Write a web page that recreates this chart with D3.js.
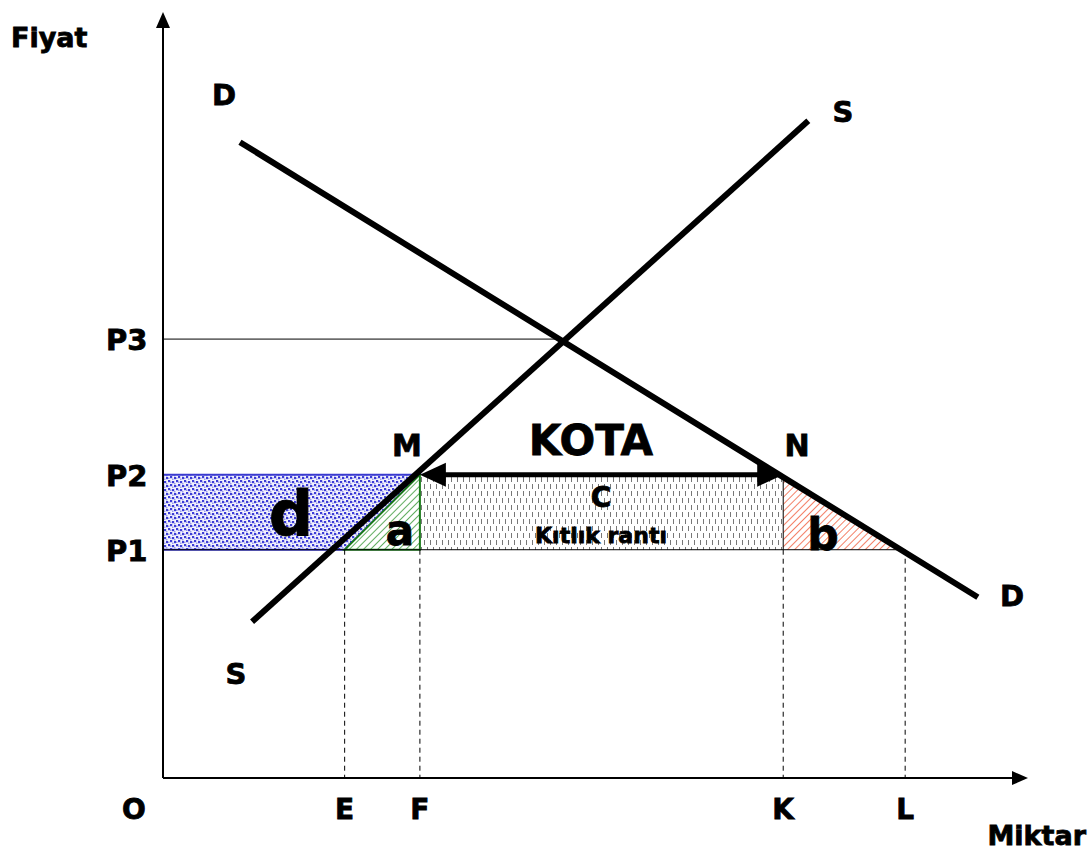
<!DOCTYPE html>
<html>
<head>
<meta charset="utf-8">
<script src="https://cdn.jsdelivr.net/npm/d3@7"></script>
<style>
  body { margin: 0; background: #fff; }
  text { font-family: "DejaVu Sans", Verdana, sans-serif; font-weight: bold; fill: #000; stroke: #000; stroke-width: 0.8px; }
</style>
</head>
<body>
<script>
var width = 1088,
    height = 854;

// price levels (vertical axis)
var priceLabels = ["P1", "P2", "P3"];
var priceValues = [29.8, 39.6, 57.3];

// quantity levels (horizontal axis)
var qtyLabels = ["E", "F", "K", "L"];
var qtyValues = [21.0, 29.7, 71.7, 85.8];

// curve end points [quantity, price]
var supply = [[10.3, 20.4], [74.6, 85.8]];
var demand = [[8.9, 83.0], [94.2, 23.6]];
var equilibrium = [46.2, 57.3];

var x = d3.scaleLinear().domain([0, 100]).range([163, 1028]);
var y = d3.scaleLinear().domain([0, 100]).range([778, 12]);

var P1 = priceValues[0], P2 = priceValues[1], P3 = priceValues[2];
var E = qtyValues[0], F = qtyValues[1], K = qtyValues[2], L = qtyValues[3];

var svg = d3.select("body")
  .append("svg")
  .attr("width", width)
  .attr("height", height);

var defs = svg.append("defs");

// blue stipple
var pd = defs.append("pattern")
  .attr("id", "dots").attr("patternUnits", "userSpaceOnUse")
  .attr("width", 8).attr("height", 8);
pd.append("rect").attr("width", 8).attr("height", 8).attr("fill", "#f4f4fd");
[[0, 0], [4, 1], [2, 4], [6, 5]].forEach(function(p) {
  pd.append("rect").attr("x", p[0]).attr("y", p[1]).attr("width", 2.2).attr("height", 2.2).attr("fill", "#3c3cd6");
});
[[2, 1.5], [6, 3], [0, 5.5], [4, 6.5]].forEach(function(p) {
  pd.append("rect").attr("x", p[0]).attr("y", p[1]).attr("width", 1.5).attr("height", 1.5).attr("fill", "#9a9cec");
});

// diagonal hatches
function hatch(id, color) {
  var p = defs.append("pattern")
    .attr("id", id).attr("patternUnits", "userSpaceOnUse")
    .attr("width", 5).attr("height", 5)
    .attr("patternTransform", "rotate(45)");
  p.append("rect").attr("width", 5).attr("height", 5).attr("fill", "#fff");
  p.append("line").attr("x1", 0).attr("y1", 0).attr("x2", 0).attr("y2", 5)
    .attr("stroke", color).attr("stroke-width", 1.6);
}
hatch("green", "#3a9a3a");
hatch("red", "#f06040");

// gray vertical dashes
var pc = defs.append("pattern")
  .attr("id", "dash").attr("patternUnits", "userSpaceOnUse")
  .attr("width", 12).attr("height", 14);
pc.append("rect").attr("width", 12).attr("height", 14).attr("fill", "#fff");
[[1.5, 1], [7.5, 1], [4.5, 8], [10.5, 8]].forEach(function(p) {
  pc.append("line").attr("x1", p[0]).attr("x2", p[0]).attr("y1", p[1]).attr("y2", p[1] + 5)
    .attr("stroke", "#777").attr("stroke-width", 1);
});

var line = d3.line().x(function(d) { return x(d[0]); }).y(function(d) { return y(d[1]); });

// shaded areas
svg.append("path")
  .attr("d", line([[0, P2], [F, P2], [E, P1], [0, P1]]) + "Z")
  .attr("fill", "url(#dots)").attr("stroke", "#3a3ad0").attr("stroke-width", 2);
svg.append("path")
  .attr("d", line([[F, P2], [K, P2], [K, P1], [F, P1]]) + "Z")
  .attr("fill", "url(#dash)");
svg.append("path")
  .attr("d", line([[E, P1], [F, P1], [F, P2]]) + "Z")
  .attr("fill", "url(#green)").attr("stroke", "#1a7a1a").attr("stroke-width", 2);
svg.append("path")
  .attr("d", line([[K, P2], [K, P1], [L, P1]]) + "Z")
  .attr("fill", "url(#red)");

// guide lines
svg.append("path").attr("d", line([[0, P3], equilibrium]))
  .attr("stroke", "#000").attr("stroke-width", 1).attr("fill", "none");
svg.append("path").attr("d", line([[0, P1], [L, P1]]))
  .attr("stroke", "#000").attr("stroke-width", 1).attr("fill", "none");
svg.append("path").attr("d", line([[K, P2], [K, P1]]))
  .attr("stroke", "#000").attr("stroke-width", 1).attr("fill", "none");

var drops = [[E, P1], [F, P1], [K, P1], [L, P1]];
svg.append("g").selectAll("path")
  .data(drops)
  .enter().append("path")
  .attr("d", function(d) { return line([d, [d[0], 0]]); })
  .attr("stroke", "#000").attr("stroke-width", 1)
  .attr("stroke-dasharray", "5,4").attr("fill", "none");

// axes
var axes = svg.append("g").attr("stroke", "#000").attr("stroke-width", 2);
axes.append("line").attr("x1", x(0)).attr("y1", y(0)).attr("x2", x(0)).attr("y2", y(100) + 14);
axes.append("line").attr("x1", x(0)).attr("y1", y(0)).attr("x2", x(100) - 14).attr("y2", y(0));
svg.append("path")
  .attr("d", "M" + x(0) + "," + y(100) + "l-7,16h14Z").attr("fill", "#000");
svg.append("path")
  .attr("d", "M" + x(100) + "," + y(0) + "l-16,-7v14Z").attr("fill", "#000");

// supply and demand
svg.append("path").attr("d", line(supply))
  .attr("stroke", "#000").attr("stroke-width", 6).attr("fill", "none");
svg.append("path").attr("d", line(demand))
  .attr("stroke", "#000").attr("stroke-width", 6).attr("fill", "none");

// quota arrow
svg.append("line")
  .attr("x1", x(F) + 20).attr("x2", x(K) - 20)
  .attr("y1", y(P2)).attr("y2", y(P2))
  .attr("stroke", "#000").attr("stroke-width", 5);
svg.append("path")
  .attr("d", "M" + x(F) + "," + y(P2) + "l26,-12v24Z").attr("fill", "#000");
svg.append("path")
  .attr("d", "M" + x(K) + "," + y(P2) + "l-26,-12v24Z").attr("fill", "#000");

// labels
function label(t, px, py, size, anchor) {
  svg.append("text").attr("x", px).attr("y", py)
    .attr("font-size", size).attr("text-anchor", anchor || "middle").text(t);
}

label("Fiyat", 11, 47, 27, "start");
label("Miktar", 1086, 845, 27, "end");
label("O", 134, 819, 28);

svg.append("g").selectAll("text")
  .data(qtyValues)
  .enter().append("text")
  .attr("x", function(d) { return x(d); })
  .attr("y", 819)
  .attr("font-size", 28)
  .attr("text-anchor", "middle")
  .text(function(d, i) { return qtyLabels[i]; });

svg.append("g").selectAll("text")
  .data(priceValues)
  .enter().append("text")
  .attr("x", 106)
  .attr("y", function(d) { return y(d) + 11; })
  .attr("font-size", 29)
  .text(function(d, i) { return priceLabels[i]; });

label("D", 224, 105, 29);
label("S", 843, 122, 29);
label("S", 236, 684, 29);
label("D", 1012, 606, 29);
label("M", 407, 456, 30);
label("N", 797, 456, 30);

label("KOTA", 591, 455, 42);
label("C", 601, 507, 28);
label("Kıtlık rantı", 601, 543, 22);
label("d", 291, 535, 62);
label("a", 400, 545, 42);
label("b", 823, 550, 44);
</script>
</body>
</html>
